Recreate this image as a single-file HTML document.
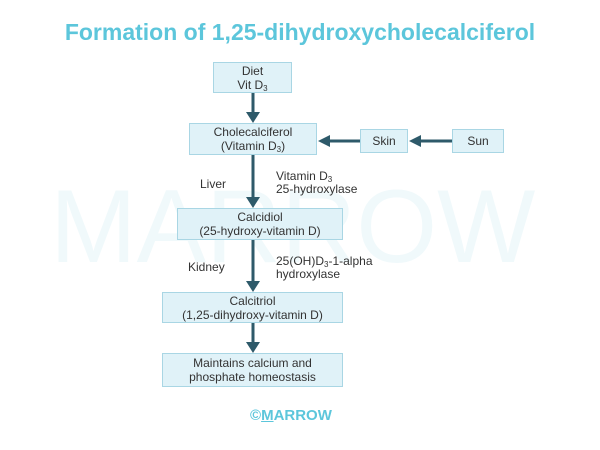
<!DOCTYPE html>
<html><head><style>
body{margin:0;width:600px;height:450px;background:#fff;position:relative;overflow:hidden;font-family:"Liberation Sans",sans-serif;}
.t{position:absolute;left:0;width:600px;top:19px;text-align:center;color:#5cc6db;font-weight:bold;font-size:23px;}
.wm{position:absolute;left:50px;top:168px;font-size:104px;color:#f0f9fb;letter-spacing:0px;font-weight:normal;}
.b{position:absolute;background:#e0f2f8;border:1px solid #a9d6e4;box-sizing:border-box;text-align:center;font-size:12px;color:#333;line-height:14px;}
.b div{position:absolute;left:0;right:0;top:50%;transform:translateY(-50%);}
.l{position:absolute;font-size:12px;color:#333;line-height:13px;}
sub{font-size:8px;vertical-align:-2px;line-height:0}
</style></head><body>
<div class="t">Formation of 1,25-dihydroxycholecalciferol</div>
<div class="wm">MARROW</div>
<svg width="600" height="450" style="position:absolute;left:0;top:0">
<g stroke="#2e5a6a" stroke-width="3" fill="#2e5a6a">
<line x1="253" y1="93" x2="253" y2="114"/><polygon points="246,112 260,112 253,123" stroke="none"/>
<line x1="253" y1="155" x2="253" y2="199"/><polygon points="246,197 260,197 253,208" stroke="none"/>
<line x1="253" y1="240" x2="253" y2="283"/><polygon points="246,281 260,281 253,292" stroke="none"/>
<line x1="253" y1="323" x2="253" y2="344"/><polygon points="246,342 260,342 253,353" stroke="none"/>
<line x1="360" y1="141" x2="327" y2="141"/><polygon points="330,135 330,147 318,141" stroke="none"/>
<line x1="452" y1="141" x2="418" y2="141"/><polygon points="421,135 421,147 409,141" stroke="none"/>
</g></svg>
<div class="b" style="left:213px;top:62px;width:79px;height:31px"><div>Diet<br>Vit D<sub>3</sub></div></div>
<div class="b" style="left:189px;top:123px;width:128px;height:32px"><div>Cholecalciferol<br>(Vitamin D<sub>3</sub>)</div></div>
<div class="b" style="left:360px;top:129px;width:48px;height:24px"><div>Skin</div></div>
<div class="b" style="left:452px;top:129px;width:52px;height:24px"><div>Sun</div></div>
<div class="b" style="left:177px;top:208px;width:166px;height:32px"><div>Calcidiol<br>(25-hydroxy-vitamin D)</div></div>
<div class="b" style="left:162px;top:292px;width:181px;height:31px"><div>Calcitriol<br>(1,25-dihydroxy-vitamin D)</div></div>
<div class="b" style="left:162px;top:353px;width:181px;height:34px"><div>Maintains calcium and<br>phosphate homeostasis</div></div>
<div class="l" style="left:200px;top:178px">Liver</div>
<div class="l" style="left:276px;top:170px">Vitamin D<sub>3</sub><br>25-hydroxylase</div>
<div class="l" style="left:188px;top:261px">Kidney</div>
<div class="l" style="left:276px;top:255px">25(OH)D<sub>3</sub>-1-alpha<br>hydroxylase</div>
<div style="position:absolute;left:250px;top:407px;color:#5cc6db;font-size:15px;font-weight:bold">©<span style="text-decoration:underline">M</span>ARROW</div>
</body></html>
